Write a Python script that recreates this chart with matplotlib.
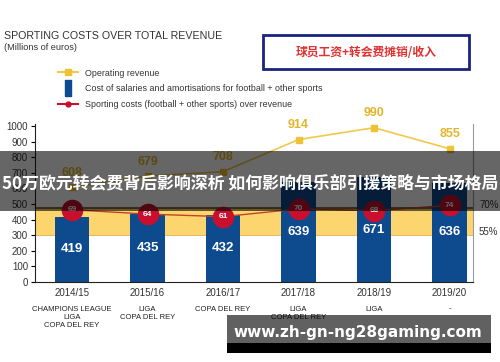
import matplotlib
matplotlib.use("Agg")
import matplotlib.pyplot as plt
from matplotlib.lines import Line2D
from matplotlib.patches import Rectangle

seasons = ["2014/15", "2015/16", "2016/17", "2017/18", "2018/19", "2019/20"]
titles = ["CHAMPIONS LEAGUE\nLIGA\nCOPA DEL REY", "LIGA\nCOPA DEL REY", "COPA DEL REY",
          "LIGA\nCOPA DEL REY", "LIGA", "-"]
revenue = [608, 679, 708, 914, 990, 855]
salaries = [419, 435, 432, 639, 671, 636]
ratio_pct = [69, 64, 61, 70, 68, 74]
yticks = [0, 100, 200, 300, 400, 500, 600, 700, 800, 900, 1000]

NARROW = ["Liberation Sans", "DejaVu Sans"]
CJK = ["Noto Sans CJK SC", "DejaVu Sans"]
NAVY = "#0d4a8e"
YEL = "#f1c94a"
YEL_TXT = "#e3b52a"
RED = "#c8102e"

fig = plt.figure(figsize=(5, 3.62), dpi=100)
fig.patch.set_facecolor("white")

ax = fig.add_axes([0.07, 0.221, 0.876, 0.437])
ax.set_xlim(-0.49, 5.31)
ax.set_ylim(0, 1015)
x = list(range(len(seasons)))

# band 55%-70%
ax.axhspan(300, 475, color="#fcd56e", zorder=1, lw=0)
ax.axhline(475, color="#6a5430", lw=1.2, zorder=1.5)
ax.axhline(300, color="#e0a94a", lw=0.6, zorder=1.5)

ax.bar(x, salaries, width=0.46, color=NAVY, zorder=2)
for xi, v in zip(x, salaries):
    ax.text(xi, v / 2, str(v), ha="center", va="center", color="white",
            fontsize=9.5, fontweight="bold", family=NARROW, zorder=3)

ax.plot(x, revenue, color=YEL, lw=1.2, marker="s", ms=4.5, mfc="#eec232",
        mec="#eec232", zorder=3)
for xi, v in zip(x, revenue):
    ax.annotate(str(v), (xi, v), xytext=(0, 6), textcoords="offset points",
                ha="center", va="bottom", color=YEL_TXT, fontsize=9,
                fontweight="bold", family=NARROW, zorder=3)

ax2 = ax.twinx()
ax2.set_ylim(-15, 169)
ax2.axis("off")
ax2.plot(x, ratio_pct, color="#c0452a", lw=1.0, zorder=4)
ax2.plot(x, ratio_pct, ls="none", marker="o", ms=14.5, mfc=RED, mec=RED, zorder=5)
for xi, v in zip(x, ratio_pct):
    ax2.text(xi, v, str(v), ha="center", va="center", color="white",
             fontsize=6, fontweight="bold", family=NARROW, zorder=6)

# axes styling
ax.spines["top"].set_visible(False)
ax.spines["right"].set_color("#9a9a9a")
ax.spines["right"].set_linewidth(0.8)
ax.spines["left"].set_color("#222222")
ax.spines["bottom"].set_color("#222222")
ax.set_yticks(yticks)
ax.set_yticklabels([str(t) for t in yticks], family=NARROW, fontsize=7, color="#333333")
ax.tick_params(axis="y", length=3, width=0.8, pad=2)
ax.set_xticks(x)
ax.set_xticklabels(seasons, family=NARROW, fontsize=7, color="#333333")
ax.tick_params(axis="x", length=0, pad=4)

for xi, t in zip(x, titles):
    ax.annotate(t, (xi, 0), xycoords=("data", "axes fraction"), xytext=(0, -17),
                textcoords="offset points", ha="center", va="top", fontsize=5.5,
                family=NARROW, color="#222222", linespacing=1.2)

# right percent labels
fig.text(0.958, 1 - 205 / 362, "70%", family=NARROW, fontsize=7, color="#333333", va="center")
fig.text(0.958, 1 - 232 / 362, "55%", family=NARROW, fontsize=7, color="#333333", va="center")

# titles
fig.text(0.008, 1 - 39 / 362, "SPORTING COSTS OVER TOTAL REVENUE", family=NARROW,
         fontsize=7.7, color="#333333", va="baseline")
fig.text(0.008, 1 - 50 / 362, "(Millions of euros)", family=NARROW,
         fontsize=6.6, color="#333333", va="baseline")

# legend
handles = [
    Line2D([], [], color=YEL, lw=1.5, marker="s", ms=4, mfc="#eec232", mec="#eec232"),
    Line2D([], [], ls="none", marker=[(-0.35, -1), (0.35, -1), (0.35, 1), (-0.35, 1), (-0.35, -1)],
           ms=12, mfc=NAVY, mec=NAVY),
    Line2D([], [], color=RED, lw=1.5, marker="o", ms=3.5),
]
labels = ["Operating revenue",
          "Cost of salaries and amortisations for football + other sports",
          "Sporting costs (football + other sports) over revenue"]
leg = fig.legend(handles, labels, loc="upper left", bbox_to_anchor=(0.108, 1 - 65 / 362),
                 frameon=False, prop={"family": NARROW, "size": 6.4}, handlelength=2.3,
                 labelspacing=0.75, handletextpad=0.8, borderaxespad=0)
for t in leg.get_texts():
    t.set_color("#333333")

# chinese box
fig.add_artist(Rectangle((263 / 500, 1 - 69 / 362), 206 / 500, 34 / 362,
                         transform=fig.transFigure, fill=False, ec="#1a237e", lw=2))
fig.text(366 / 500, 1 - 52 / 362, "球员工资+转会费摊销/收入", family=CJK, fontsize=8.5,
         fontweight="bold", color="#e03030", ha="center", va="center")

# overlay banner
fig.add_artist(Rectangle((0, 1 - 211 / 362), 1, 60 / 362, transform=fig.transFigure,
                         color="black", alpha=0.6, lw=0, zorder=10))
fig.text(0.004, 1 - 183 / 362, "50万欧元转会费背后影响深析 如何影响俱乐部引援策略与市场格局",
         family=CJK, fontsize=12.2, fontweight="bold", color="white", ha="left",
         va="center", zorder=11)

# bottom url banner
fig.add_artist(Rectangle((227 / 500, 1 - 343 / 362), 264 / 500, 28 / 362,
                         transform=fig.transFigure, color="black", alpha=0.62, lw=0, zorder=10))
fig.add_artist(Rectangle((227 / 500, 1 - 353 / 362), 264 / 500, 10 / 362,
                         transform=fig.transFigure, color="black", lw=0, zorder=10))
fig.text(358 / 500, 1 - 332 / 362, "www.zh-gn-ng28gaming.com", fontsize=11,
         fontweight="bold", color="white", ha="center", va="center", zorder=11)

fig.savefig("out.png", dpi=100, facecolor="white")
